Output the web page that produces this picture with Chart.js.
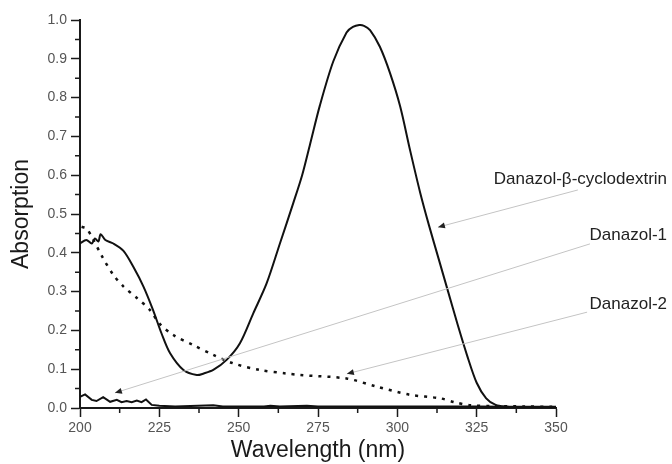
<!DOCTYPE html>
<html>
<head>
<meta charset="utf-8">
<script src="https://cdn.jsdelivr.net/npm/chart.js@4"></script>
<style>
  html, body { margin: 0; padding: 0; background: #fff; }
  canvas { display: block; }
</style>
</head>
<body>
<canvas id="chart" width="672" height="464"></canvas>
<script>
// Danazol-beta-cyclodextrin (large peak)
const betaX = [200, 202, 203.7, 204.7, 205.8, 206.5, 208, 210.5, 213.7, 216.8, 220, 223, 225.7, 228.4, 232.6, 236.8, 239, 242, 246.2, 250.4, 254.6, 258.8, 263, 267.2, 270, 272.5, 275.6, 279.8, 284, 286, 288, 289.5, 291.4, 294.5, 297.7, 300.9, 304, 307.2, 310, 313, 316, 319, 322, 325, 328, 331, 335];
const betaY = [0.424, 0.433, 0.424, 0.437, 0.429, 0.448, 0.433, 0.424, 0.405, 0.364, 0.313, 0.253, 0.192, 0.141, 0.098, 0.085, 0.089, 0.098, 0.124, 0.167, 0.244, 0.321, 0.424, 0.528, 0.6, 0.68, 0.78, 0.893, 0.968, 0.982, 0.987, 0.985, 0.974, 0.931, 0.863, 0.777, 0.665, 0.555, 0.47, 0.385, 0.30, 0.215, 0.135, 0.065, 0.025, 0.008, 0.003];

// Danazol-1 (flat noisy trace near zero)
const d1X = [200, 201.6, 203.7, 205.2, 207.3, 209.5, 211.6, 213.1, 214.7, 216.3, 217.9, 219.4, 220.8, 222.6, 225, 230, 242, 245, 258, 260, 263, 271.5, 275, 300, 325, 335, 350];
const d1Y = [0.029, 0.035, 0.021, 0.018, 0.028, 0.016, 0.021, 0.015, 0.018, 0.015, 0.019, 0.015, 0.022, 0.008, 0.006, 0.004, 0.007, 0.004, 0.004, 0.006, 0.004, 0.006, 0.004, 0.004, 0.004, 0.003, 0.003];

// Danazol-2 (dotted)
const d2X = [200.5, 202, 204, 207, 210.5, 213.7, 218, 222, 225, 229.4, 235.7, 242, 248.3, 256.7, 265, 269.3, 284, 293.5, 304, 313.5, 318, 323, 330, 340, 349];
const d2Y = [0.467, 0.463, 0.437, 0.39, 0.343, 0.313, 0.283, 0.253, 0.218, 0.188, 0.162, 0.137, 0.115, 0.098, 0.089, 0.085, 0.076, 0.055, 0.034, 0.025, 0.015, 0.007, 0.005, 0.004, 0.003];

// axis ticks
const xTicks = [200, 225, 250, 275, 300, 325, 350];
const xMinor = [212.5, 237.5, 262.5, 287.5, 312.5, 337.5];
const yTicks = [0, 0.1, 0.2, 0.3, 0.4, 0.5, 0.6, 0.7, 0.8, 0.9, 1.0];
const yMinor = [0.05, 0.15, 0.25, 0.35, 0.45, 0.55, 0.65, 0.75, 0.85, 0.95];

// labels with leader arrows, in data units: text anchor (right edge), line start, arrow tip
const labels = ['Danazol-\u03B2-cyclodextrin', 'Danazol-1', 'Danazol-2'];
const labelAt = [[385, 0.590], [385, 0.446], [385, 0.268]];
const lineFrom = [[356.9, 0.562], [360.7, 0.423], [359.8, 0.247]];
const arrowTo = [[312.8, 0.466], [211.0, 0.039], [284.1, 0.088]];

const pts = (xs, ys) => xs.map((x, i) => ({ x: x, y: ys[i] }));
const FONT = "'Liberation Sans', Arial, sans-serif";

// minor ticks drawn on the axes
const minorTicks = {
  id: 'minorTicks',
  afterDraw(chart) {
    const ctx = chart.ctx;
    const xs = chart.scales.x, ys = chart.scales.y;
    ctx.save();
    ctx.strokeStyle = '#1a1a1a';
    ctx.lineWidth = 1.5;
    ctx.beginPath();
    xMinor.forEach(v => {
      const px = xs.getPixelForValue(v);
      ctx.moveTo(px, xs.top);
      ctx.lineTo(px, xs.top + 5);
    });
    yMinor.forEach(v => {
      const py = ys.getPixelForValue(v);
      ctx.moveTo(ys.right, py);
      ctx.lineTo(ys.right - 5, py);
    });
    ctx.stroke();
    ctx.restore();
  }
};

// text labels and gray leader lines with small arrowheads
const callouts = {
  id: 'callouts',
  afterDatasetsDraw(chart) {
    const ctx = chart.ctx;
    const xs = chart.scales.x, ys = chart.scales.y;
    const P = p => [xs.getPixelForValue(p[0]), ys.getPixelForValue(p[1])];
    ctx.save();
    labels.forEach((txt, i) => {
      const [tx, ty] = P(labelAt[i]);
      ctx.fillStyle = '#222';
      ctx.font = '17px ' + FONT;
      ctx.textAlign = 'right';
      ctx.textBaseline = 'middle';
      ctx.fillText(txt, tx, ty);

      const [x0, y0] = P(lineFrom[i]);
      const [x1, y1] = P(arrowTo[i]);
      ctx.strokeStyle = '#c4c4c4';
      ctx.lineWidth = 1;
      ctx.beginPath();
      ctx.moveTo(x0, y0);
      ctx.lineTo(x1, y1);
      ctx.stroke();

      const a = Math.atan2(y1 - y0, x1 - x0);
      const len = 7, half = 3;
      ctx.fillStyle = '#222';
      ctx.beginPath();
      ctx.moveTo(x1, y1);
      ctx.lineTo(x1 - len * Math.cos(a) + half * Math.sin(a), y1 - len * Math.sin(a) - half * Math.cos(a));
      ctx.lineTo(x1 - len * Math.cos(a) - half * Math.sin(a), y1 - len * Math.sin(a) + half * Math.cos(a));
      ctx.closePath();
      ctx.fill();
    });
    ctx.restore();
  }
};

new Chart(document.getElementById('chart'), {
  type: 'line',
  data: {
    datasets: [
      {
        label: labels[0],
        data: pts(betaX, betaY),
        borderColor: '#111',
        borderWidth: 2,
        tension: 0.3,
        pointRadius: 0
      },
      {
        label: labels[1],
        data: pts(d1X, d1Y),
        borderColor: '#111',
        borderWidth: 2,
        tension: 0,
        pointRadius: 0
      },
      {
        label: labels[2],
        data: pts(d2X, d2Y),
        borderColor: '#111',
        borderWidth: 2.5,
        borderDash: [3, 6],
        borderCapStyle: 'butt',
        tension: 0.3,
        pointRadius: 0
      }
    ]
  },
  options: {
    responsive: false,
    animation: false,
    layout: { padding: { top: 20, right: 116, left: 0, bottom: 0 } },
    plugins: {
      legend: { display: false },
      tooltip: { enabled: false }
    },
    scales: {
      x: {
        type: 'linear',
        min: 200,
        max: 350,
        afterBuildTicks: s => { s.ticks = xTicks.map(v => ({ value: v })); },
        afterFit: s => { s.height = 56; },
        border: { color: '#1a1a1a', width: 2 },
        grid: { drawOnChartArea: false, drawTicks: true, tickLength: 9, tickColor: '#1a1a1a', tickWidth: 1.5 },
        ticks: {
          color: '#555',
          font: { family: FONT, size: 14 },
          padding: 3,
          maxRotation: 0,
          autoSkip: false
        },
        title: {
          display: true,
          text: 'Wavelength (nm)',
          color: '#1a1a1a',
          font: { family: FONT, size: 23, lineHeight: 1.2 },
          padding: { top: 0, bottom: 0 }
        }
      },
      y: {
        type: 'linear',
        min: 0,
        max: 1,
        afterBuildTicks: s => { s.ticks = yTicks.map(v => ({ value: v })); },
        afterFit: s => { s.width = 80; },
        border: { color: '#1a1a1a', width: 2 },
        grid: { drawOnChartArea: false, drawTicks: true, tickLength: 9, tickColor: '#1a1a1a', tickWidth: 1.5 },
        ticks: {
          color: '#555',
          font: { family: FONT, size: 14 },
          padding: 4,
          callback: v => v.toFixed(1)
        },
        title: {
          display: true,
          text: 'Absorption',
          color: '#1a1a1a',
          font: { family: FONT, size: 23, lineHeight: 1.2 },
          padding: { top: 8, bottom: 0 }
        }
      }
    }
  },
  plugins: [minorTicks, callouts]
});
</script>
</body>
</html>
